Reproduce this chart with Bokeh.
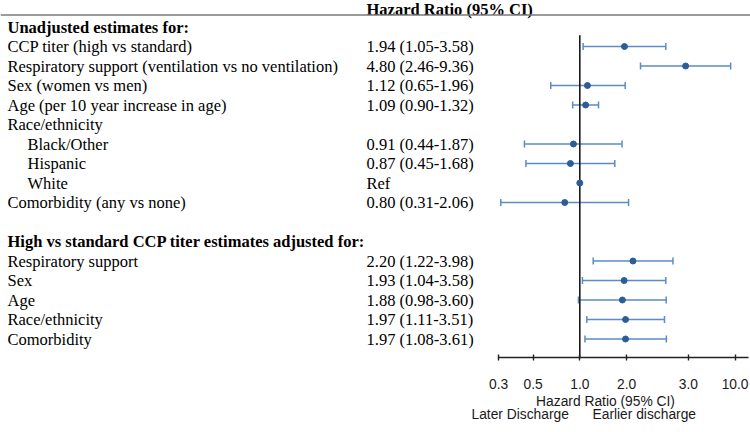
import math
from bokeh.plotting import figure
from bokeh.models import (Range1d, LinearScale, LogAxis, FixedTicker, Whisker,
                          TeeHead, ColumnDataSource)
from bokeh.core.properties import value
from bokeh.embed import file_html
from bokeh.resources import INLINE

# ---------------- data ----------------
unadj_labels = ["CCP titer (high vs standard)",
                "Respiratory support (ventilation vs no ventilation)",
                "Sex (women vs men)",
                "Age (per 10 year increase in age)",
                "Race/ethnicity",
                "Black/Other",
                "Hispanic",
                "White",
                "Comorbidity (any vs none)"]
unadj_indent = [0, 0, 0, 0, 0, 1, 1, 1, 0]
unadj_hr = [1.94, 4.80, 1.12, 1.09, None, 0.91, 0.87, 1.00, 0.80]
unadj_lo = [1.05, 2.46, 0.65, 0.90, None, 0.44, 0.45, None, 0.31]
unadj_hi = [3.58, 9.36, 1.96, 1.32, None, 1.87, 1.68, None, 2.06]
unadj_ref = [False, False, False, False, False, False, False, True, False]

adj_labels = ["Respiratory support", "Sex", "Age", "Race/ethnicity", "Comorbidity"]
adj_hr = [2.20, 1.93, 1.88, 1.97, 1.97]
adj_lo = [1.22, 1.04, 0.98, 1.11, 1.08]
adj_hi = [3.98, 3.58, 3.60, 3.51, 3.61]

header1 = "Unadjusted estimates for:"
header2 = "High vs standard CCP titer estimates adjusted for:"
col_header = "Hazard Ratio (95% CI)"
x_title = "Hazard Ratio (95% CI)"
left_note = "Later Discharge"
right_note = "Earlier discharge"

tick_values = [0.3, 0.5, 1, 2, 5, 10]
tick_labels = ["0.3", "0.5", "1.0", "2.0", "3.0", "10.0"]

# ---------------- layout ----------------
W, H = 750, 432
X1_PX = 579.3        # px of HR = 1
PX_PER_LN = 67.45    # px per natural-log unit
ROW0_PX = 26.5       # y of row 0
ROW_STEP = 19.5

SERIF = value("Liberation Serif")
SANS = value("Liberation Sans")
FS = "16.5px"
FS_SANS = "13.8px"
BAR_COLOR = "#5b8bc8"
DOT_COLOR = "#2d5d98"

x_start = math.exp(-X1_PX / PX_PER_LN)
x_end = math.exp((W - X1_PX) / PX_PER_LN)
y_bottom = (H - ROW0_PX) / ROW_STEP
y_top = -ROW0_PX / ROW_STEP

p = figure(width=W, height=H, output_backend="svg", toolbar_location=None,
           x_axis_type="log", x_range=Range1d(x_start, x_end),
           y_range=Range1d(y_bottom, y_top),
           x_axis_location=None, y_axis_location=None,
           min_border=0, min_border_left=0, min_border_right=0,
           min_border_top=0, min_border_bottom=0,
           outline_line_color=None, background_fill_color="white",
           border_fill_color="white")
p.grid.visible = False
p.extra_x_ranges = {"px": Range1d(0, W)}
p.extra_x_scales = {"px": LinearScale()}
p.extra_y_ranges = {"py": Range1d(H, 0)}
p.extra_y_scales = {"py": LinearScale()}

# rows
unadj_rows = [1 + i for i in range(len(unadj_labels))]
adj_start = 1 + len(unadj_labels) + 2
adj_rows = [adj_start + i for i in range(len(adj_labels))]
header2_row = adj_start - 1

# ---------------- left text table ----------------
LABEL_X = 7
INDENT_X = 27
HR_X = 366

p.text(x=[LABEL_X, LABEL_X], y=[0, header2_row], text=[header1, header2],
       x_range_name="px", text_font=SERIF, text_font_size=FS,
       text_font_style="bold", text_baseline="middle", text_align="left",
       text_color="black")

lab_x = [INDENT_X if ind else LABEL_X for ind in unadj_indent] + [LABEL_X] * len(adj_labels)
p.text(x=lab_x, y=unadj_rows + adj_rows, text=unadj_labels + adj_labels,
       x_range_name="px", text_font=SERIF, text_font_size=FS,
       text_baseline="middle", text_align="left", text_color="black")

hr_rows, hr_texts = [], []
for r, h, lo, hi, ref in zip(unadj_rows, unadj_hr, unadj_lo, unadj_hi, unadj_ref):
    if ref:
        hr_rows.append(r); hr_texts.append("Ref")
    elif h is not None:
        hr_rows.append(r); hr_texts.append(f"{h:.2f} ({lo:.2f}-{hi:.2f})")
for r, h, lo, hi in zip(adj_rows, adj_hr, adj_lo, adj_hi):
    hr_rows.append(r); hr_texts.append(f"{h:.2f} ({lo:.2f}-{hi:.2f})")
p.text(x=[HR_X] * len(hr_rows), y=hr_rows, text=hr_texts,
       x_range_name="px", text_font=SERIF, text_font_size=FS,
       text_baseline="middle", text_align="left", text_color="black")

# column header + rule
p.text(x=[HR_X], y=[8.5], text=[col_header], x_range_name="px", y_range_name="py",
       text_font=SERIF, text_font_size=FS, text_font_style="bold",
       text_baseline="middle", text_align="left", text_color="black")
p.segment(x0=[0], y0=[14.5], x1=[W], y1=[14.5], x_range_name="px", y_range_name="py",
          line_color="#7a7a7a", line_width=1.5)

# ---------------- forest plot ----------------
# reference line at HR = 1
axis_row = adj_rows[-1] + 0.95
p.segment(x0=[1], y0=[0.42], x1=[1], y1=[axis_row], line_color="#1a1a1a", line_width=1.6)

bar_src = ColumnDataSource(dict(
    y=[r for r, lo in zip(unadj_rows, unadj_lo) if lo is not None] + adj_rows,
    lo=[lo for lo in unadj_lo if lo is not None] + adj_lo,
    hi=[hi for hi in unadj_hi if hi is not None] + adj_hi,
))
wh = Whisker(source=bar_src, base="y", lower="lo", upper="hi", dimension="width",
             line_color=BAR_COLOR, line_width=1.5,
             lower_head=TeeHead(size=7, line_color=BAR_COLOR, line_width=1.5),
             upper_head=TeeHead(size=7, line_color=BAR_COLOR, line_width=1.5))
p.add_layout(wh)

pt_y = [r for r, h in zip(unadj_rows, unadj_hr) if h is not None] + adj_rows
pt_x = [h for h in unadj_hr if h is not None] + adj_hr
p.scatter(x=pt_x, y=pt_y, marker="circle", size=6, fill_color=DOT_COLOR,
          line_color=DOT_COLOR)

# x axis (log) at the bottom of the rows
ax = LogAxis(fixed_location=axis_row, bounds=(0.3, 12.2),
             ticker=FixedTicker(ticks=tick_values, minor_ticks=[]),
             major_label_overrides={v: s for v, s in zip(tick_values, tick_labels)},
             axis_line_color="#222222", axis_line_width=1.6,
             major_tick_line_color="#222222", major_tick_line_width=1.4,
             major_tick_in=3, major_tick_out=3,
             minor_tick_line_color=None,
             major_label_text_font="Liberation Sans",
             major_label_text_font_size=FS_SANS,
             major_label_text_color="#1a1a1a",
             major_label_standoff=18)
p.add_layout(ax, "below")

# axis title and direction notes
p.text(x=[605], y=[401], text=[x_title], x_range_name="px", y_range_name="py",
       text_font=SANS, text_font_size=FS_SANS, text_baseline="middle",
       text_align="center", text_color="#1a1a1a")
p.text(x=[471, 592], y=[414, 414], text=[left_note, right_note],
       x_range_name="px", y_range_name="py",
       text_font=SANS, text_font_size=FS_SANS, text_baseline="middle",
       text_align="left", text_color="#1a1a1a")

open("out.html", "w").write(file_html(p, INLINE))
